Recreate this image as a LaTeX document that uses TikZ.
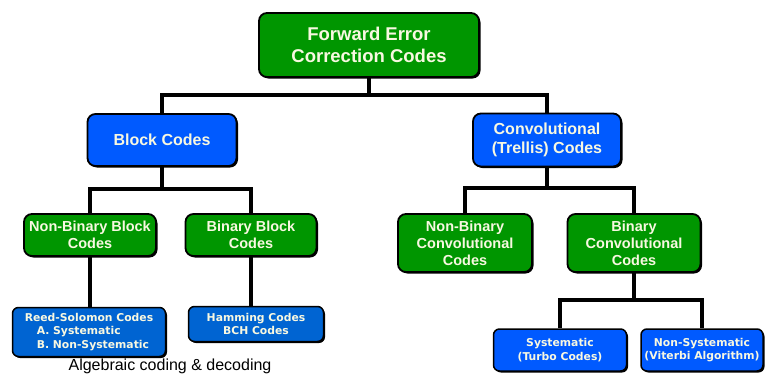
\documentclass[tikz,border=0pt]{standalone}
\usepackage{fontspec}
\setmainfont{Liberation Sans}
\newfontfamily\verdanafont{DejaVu Sans}
\usetikzlibrary{shadows}
\definecolor{fecgreen}{RGB}{0,150,0}
\definecolor{fecblue}{RGB}{0,90,255}
\definecolor{fecdarkblue}{RGB}{0,100,210}
\definecolor{boxtext}{RGB}{248,248,225}
\tikzset{codebox/.style={draw=black,line width=1.8pt,rounded corners=8pt,
    text=boxtext,align=center,inner sep=0pt,
    drop shadow={shadow xshift=1.5pt,shadow yshift=-1.5pt,opacity=1,fill=black}},
    greenbox/.style={codebox,fill=fecgreen},
    bluebox/.style={codebox,fill=fecblue},
    smallbox/.style={codebox,line width=1.5pt,rounded corners=6pt,
    font=\verdanafont\bfseries\fontsize{10.8}{13.5}\selectfont},
    link/.style={draw,line width=3.8pt}}

\begin{document}
\begin{tikzpicture}[x=1pt,y=-1pt]
\useasboundingbox (0,0) rectangle (766,381);
\node[greenbox,minimum width=220pt,minimum height=64pt,
    font=\bfseries\fontsize{18.5}{22}\selectfont] (fec) at (369,45)
    {Forward Error\\Correction Codes};
\node[bluebox,minimum width=149pt,minimum height=52pt,
    font=\bfseries\fontsize{16}{19}\selectfont] (block) at (162,140) {Block Codes};
\node[bluebox,minimum width=148pt,minimum height=53pt,
    font=\bfseries\fontsize{16}{19}\selectfont] (conv) at (547,140)
    {Convolutional\\(Trellis) Codes};
\node[greenbox,minimum width=132pt,minimum height=42pt,
    font=\bfseries\fontsize{14.5}{17}\selectfont] (nbblock) at (90,235)
    {Non-Binary Block\\Codes};
\node[greenbox,minimum width=131pt,minimum height=42pt,
    font=\bfseries\fontsize{14.5}{17}\selectfont] (bblock) at (251,235)
    {Binary Block\\Codes};
\node[greenbox,minimum width=134pt,minimum height=58pt,
    font=\bfseries\fontsize{14.5}{17}\selectfont] (nbconv) at (465,243)
    {Non-Binary\\Convolutional\\Codes};
\node[greenbox,minimum width=133pt,minimum height=58pt,
    font=\bfseries\fontsize{14.5}{17}\selectfont] (bconv) at (634,243)
    {Binary\\Convolutional\\Codes};
\node[smallbox,fill=fecdarkblue,minimum width=153pt,minimum height=49pt,align=left]
    (rs) at (89,332)
    {Reed-Solomon Codes\\\hspace*{12pt}A. Systematic\\\hspace*{12pt}B. Non-Systematic};
\node[smallbox,fill=fecdarkblue,minimum width=135pt,minimum height=35pt]
    (hamming) at (256,324) {Hamming Codes\\BCH Codes};
\node[smallbox,fill=fecblue,minimum width=133pt,minimum height=42pt]
    (sys) at (560,350) {Systematic\\(Turbo Codes)};
\node[smallbox,fill=fecblue,minimum width=122pt,minimum height=42pt]
    (nsys) at (702,350) {Non-Systematic\\(Viterbi Algorithm)};
\node[font=\fontsize{16}{19}\selectfont] (alg) at (170,366)
    {Algebraic coding \& decoding};

% connectors
\coordinate (fecjoin) at (369,95);
\coordinate (blockjoin) at (162,189);
\coordinate (convjoin) at (547,188);
\coordinate (bconvjoin) at (634,300);
\path[link] (fec.south) -- (fecjoin) -| (block.north);
\path[link] (fecjoin) -| (conv.north);
\path[link] (block.south) -- (blockjoin) -| (nbblock.north);
\path[link] (blockjoin) -| (bblock.north);
\path[link] (conv.south) -- (convjoin) -| (nbconv.north);
\path[link] (convjoin) -| (bconv.north);
\path[link] (nbblock.south) -- (nbblock.south |- rs.north);
\path[link] (bblock.south) -- (bblock.south |- hamming.north);
\path[link] (bconv.south) -- (bconvjoin) -| (sys.north);
\path[link] (bconvjoin) -| (nsys.north);
\end{tikzpicture}
\end{document}
